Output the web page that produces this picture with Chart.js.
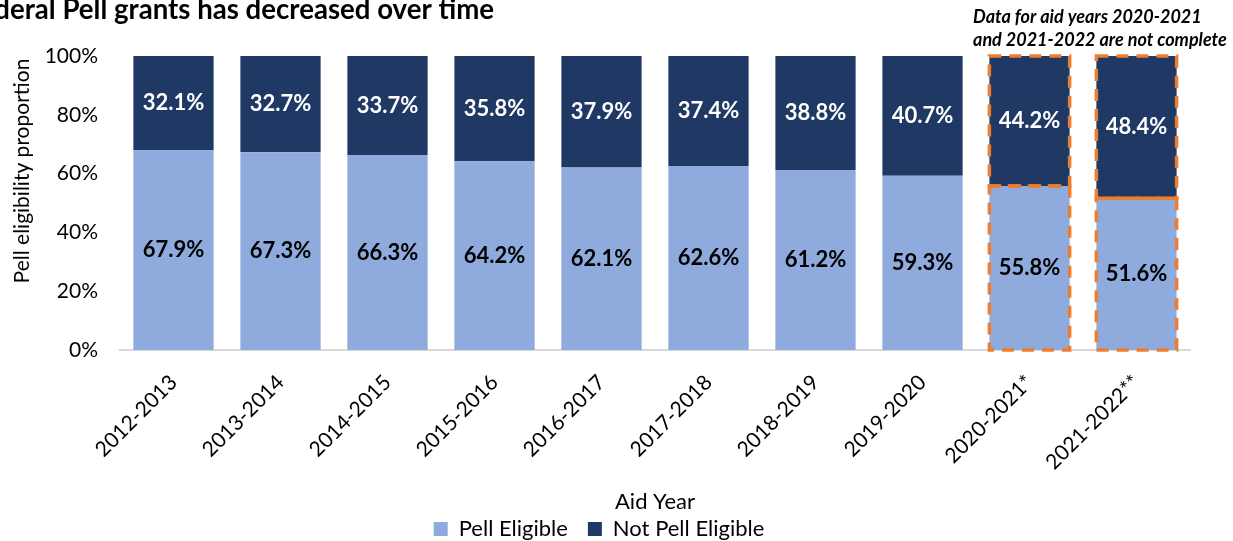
<!DOCTYPE html>
<html>
<head>
<meta charset="utf-8">
<script src="https://cdn.jsdelivr.net/npm/chart.js@4.4.1/dist/chart.umd.min.js"></script>
<style>
  html, body { margin: 0; padding: 0; background: #ffffff; }
  #wrap { width: 1233px; height: 541px; position: relative; }
</style>
</head>
<body>
<div id="wrap"><canvas id="chart"></canvas></div>
<script>
// Aid years and the share of students in each Pell eligibility group (percent)
const aidYears = ['2012-2013', '2013-2014', '2014-2015', '2015-2016', '2016-2017',
                  '2017-2018', '2018-2019', '2019-2020', '2020-2021*', '2021-2022**'];
const pellEligible    = [67.9, 67.3, 66.3, 64.2, 62.1, 62.6, 61.2, 59.3, 55.8, 51.6];
const notPellEligible = [32.1, 32.7, 33.7, 35.8, 37.9, 37.4, 38.8, 40.7, 44.2, 48.4];
const yTicks = [0, 20, 40, 60, 80, 100];
// Years whose data are still incomplete get a dashed outline
const incompleteYears = ['2020-2021*', '2021-2022**'];

const titleText = 'federal Pell grants has decreased over time';
const noteLines = ['Data for aid years 2020-2021', 'and 2021-2022 are not complete'];
const yAxisTitle = 'Pell eligibility proportion';
const xAxisTitle = 'Aid Year';

const FONT = 'Lato, "Open Sans", sans-serif';
const LIGHT = '#8FAADC';
const DARK = '#203864';
const ORANGE = '#ED7D31';

// Plot frame
const PLOT_BOTTOM = 350;
const LEGEND_CENTER_X = 599;
const LEGEND_TEXT_Y = 529;
const LEGEND_FONT = 22;
const LEGEND_PAD = 20;

// Percent labels centred in each stacked segment
const segmentLabels = {
  id: 'segmentLabels',
  afterDatasetsDraw(chart) {
    const ctx = chart.ctx;
    ctx.save();
    ctx.font = 'bold 22px ' + FONT;
    ctx.textAlign = 'center';
    ctx.textBaseline = 'middle';
    chart.data.datasets.forEach((ds, di) => {
      const meta = chart.getDatasetMeta(di);
      ctx.fillStyle = di === 0 ? '#000000' : '#ffffff';
      meta.data.forEach((bar, i) => {
        const yMid = (bar.y + bar.base) / 2;
        ctx.fillText(ds.data[i].toFixed(1) + '%', bar.x, yMid);
      });
    });
    ctx.restore();
  }
};

// Dashed orange outline around each segment of the incomplete years
const dashedOutline = {
  id: 'dashedOutline',
  afterDatasetsDraw(chart) {
    const ctx = chart.ctx;
    ctx.save();
    ctx.strokeStyle = ORANGE;
    ctx.lineWidth = 3.5;
    ctx.setLineDash([12, 8]);
    chart.data.datasets.forEach((ds, di) => {
      const meta = chart.getDatasetMeta(di);
      meta.data.forEach((bar, i) => {
        if (!incompleteYears.includes(chart.data.labels[i])) return;
        const left = bar.x - bar.width / 2;
        const top = Math.min(bar.y, bar.base);
        const h = Math.abs(bar.base - bar.y);
        ctx.strokeRect(left, top, bar.width, h);
      });
    });
    ctx.restore();
  }
};

// Place the legend row centred under the plot, just below the axis title
const legendPlacement = {
  id: 'legendPlacement',
  afterLayout(chart) {
    const lg = chart.legend;
    if (!lg) return;
    const dx = LEGEND_CENTER_X - (lg.left + lg.right) / 2;
    lg.left += dx;
    lg.right += dx;
    const h = lg.bottom - lg.top;
    lg.top = LEGEND_TEXT_Y - LEGEND_PAD - LEGEND_FONT / 2;
    lg.bottom = lg.top + h;
  }
};

// Headline, note about incomplete years and the two axis titles
const headerText = {
  id: 'headerText',
  afterDraw(chart) {
    const ctx = chart.ctx;
    const area = chart.chartArea;
    ctx.save();
    ctx.fillStyle = '#000000';
    ctx.font = 'bold 27.6px ' + FONT;
    ctx.textAlign = 'right';
    ctx.textBaseline = 'alphabetic';
    ctx.fillText(titleText, 494, 19);

    ctx.font = 'italic bold 18px ' + FONT;
    ctx.textAlign = 'left';
    ctx.fillText(noteLines[0], 973, 23);
    ctx.fillText(noteLines[1], 973, 46);

    ctx.font = '22px ' + FONT;
    ctx.textAlign = 'center';
    ctx.textBaseline = 'middle';
    ctx.fillText(xAxisTitle, (area.left + area.right) / 2, 502);

    ctx.translate(22, 171);
    ctx.rotate(-Math.PI / 2);
    ctx.font = '21px ' + FONT;
    ctx.fillText(yAxisTitle, 0, 0);
    ctx.restore();
  }
};

new Chart(document.getElementById('chart'), {
  type: 'bar',
  data: {
    labels: aidYears,
    datasets: [
      { label: 'Pell Eligible', data: pellEligible, backgroundColor: LIGHT, borderWidth: 0 },
      { label: 'Not Pell Eligible', data: notPellEligible, backgroundColor: DARK, borderWidth: 0 }
    ]
  },
  options: {
    responsive: true,
    maintainAspectRatio: false,
    animation: false,
    layout: { padding: { top: 56, right: 43, left: 46, bottom: 0 } },
    datasets: { bar: { barPercentage: 0.75, categoryPercentage: 1.0 } },
    scales: {
      x: {
        stacked: true,
        grid: { display: false, drawTicks: false },
        border: { display: true, color: '#D9D9D9', width: 2 },
        ticks: {
          color: '#000000',
          font: { family: FONT, size: 21 },
          maxRotation: 45,
          minRotation: 45,
          padding: 20
        },
        afterFit(scale) {
          scale.paddingLeft = 0;
          scale.paddingRight = 0;
          const lg = scale.chart.legend;
          const lgH = lg ? lg.height : 0;
          scale.height = scale.chart.height - lgH - PLOT_BOTTOM;
        }
      },
      y: {
        stacked: true,
        min: 0,
        max: 100,
        afterBuildTicks(scale) { scale.ticks = yTicks.map(v => ({ value: v })); },
        grid: { display: false, drawTicks: false },
        border: { display: false },
        ticks: {
          color: '#000000',
          font: { family: FONT, size: 21 },
          padding: 22,
          callback: v => v + '%'
        },
        afterFit(scale) { scale.width = 74; }
      }
    },
    plugins: {
      legend: {
        position: 'bottom',
        labels: {
          color: '#000000',
          font: { family: FONT, size: LEGEND_FONT },
          boxWidth: 14,
          boxHeight: 14,
          padding: LEGEND_PAD
        }
      },
      tooltip: { enabled: false },
      title: { display: false }
    }
  },
  plugins: [segmentLabels, dashedOutline, legendPlacement, headerText]
});
</script>
</body>
</html>
